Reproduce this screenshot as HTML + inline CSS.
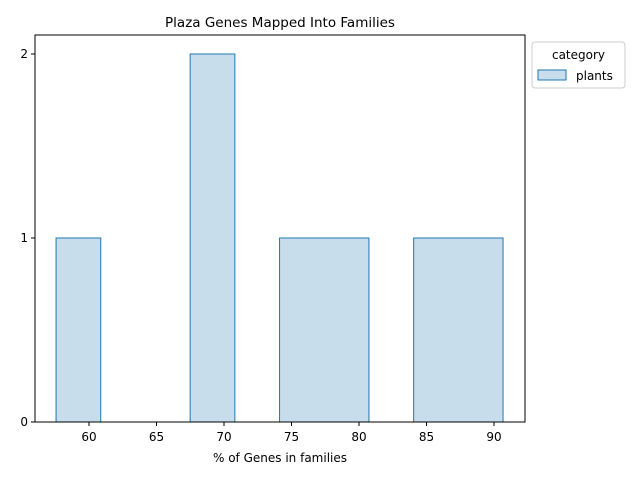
<!DOCTYPE html>
<html><head><meta charset="utf-8"><style>
body{margin:0;background:#fff;font-family:"Liberation Sans","DejaVu Sans",sans-serif;}
svg text{font-family:"DejaVu Sans","Liberation Sans",sans-serif;}
</style></head><body>
<svg id="c" width="640" height="480" xmlns="http://www.w3.org/2000/svg"></svg>
<script>
const binMin = 57.56;
const binMax = 90.67;
const counts = [1,0,0,2,0,1,1,0,1,1];
const xTicks = [60,65,70,75,80,85,90];
const yTicks = [0,1,2];
const title = "Plaza Genes Mapped Into Families";
const xLabel = "% of Genes in families";

const L=35,R=525,T=35,B=422;
const X=v=>89+(v-60)*13.5;
const Y=v=>422-v*184;
const svg=document.getElementById('c');
const NS="http://www.w3.org/2000/svg";
function mk(tag,attrs,parent){const e=document.createElementNS(NS,tag);for(const k in attrs)e.setAttribute(k,attrs[k]);(parent||svg).appendChild(e);return e;}

const bw=(binMax-binMin)/counts.length;
let d=`M${X(binMin)},${Y(0)}`;
counts.forEach((c,i)=>{d+=` L${X(binMin+i*bw)},${Y(c)} L${X(binMin+(i+1)*bw)},${Y(c)}`;});
d+=` L${X(binMax)},${Y(0)}`;
const hist=mk('path',{d:d+' Z',fill:'rgba(31,119,180,0.25)',stroke:'#1f77b4','stroke-width':1});



const frame=mk('rect',{x:L,y:T,width:R-L,height:B-T,fill:'none',stroke:'#000','stroke-width':1});



xTicks.forEach(t=>{
  mk('line',{x1:X(t),x2:X(t),y1:B,y2:B+4,stroke:'#000'});
  const tx=mk('text',{x:X(t),y:B+19,'text-anchor':'middle','font-size':12,fill:'#000'});
  tx.textContent=t;
  
  
});
yTicks.forEach(t=>{
  mk('line',{x1:L-4,x2:L,y1:Y(t),y2:Y(t),stroke:'#000'});
  const tx=mk('text',{x:L-7,y:Y(t)+4,'text-anchor':'end','font-size':12,fill:'#000'});
  tx.textContent=t;
  
  
});
const ti=mk('text',{x:(L+R)/2,y:27,'text-anchor':'middle','font-size':13.5});
ti.textContent=title;


const xl=mk('text',{x:(L+R)/2,y:462,'text-anchor':'middle','font-size':12});
xl.textContent=xLabel;



const lg=mk('g',{});


mk('rect',{x:532,y:42,width:93,height:46,rx:3,fill:'#fff',stroke:'#ccc'},lg);
const lt=mk('text',{x:578.5,y:59,'text-anchor':'middle','font-size':12},lg);
lt.textContent='category';
mk('rect',{x:538,y:70,width:28,height:10,fill:'rgba(31,119,180,0.25)',stroke:'#1f77b4'},lg);
const le=mk('text',{x:576,y:80,'font-size':12},lg);
le.textContent='plants';


</script>
</body></html>
